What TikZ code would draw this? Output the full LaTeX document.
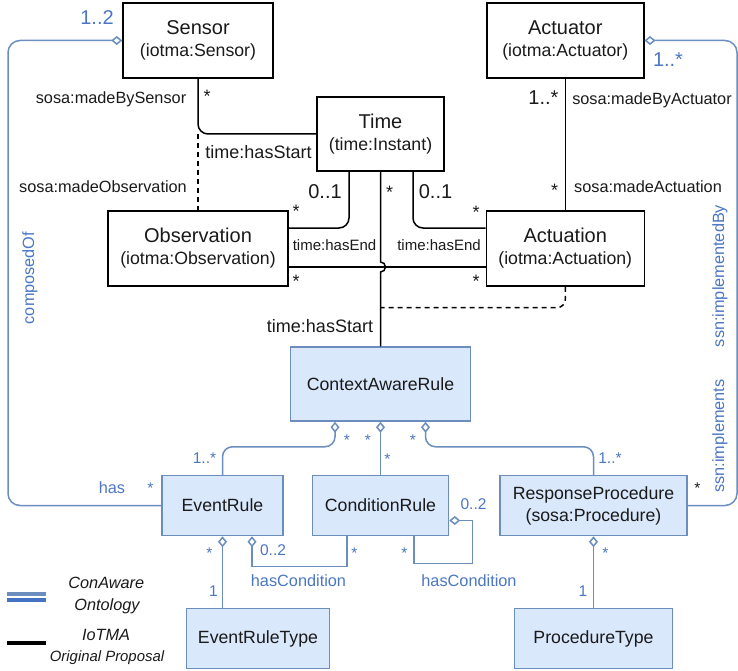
\documentclass[tikz,border=0pt]{standalone}
\usepackage{fontspec}
\setmainfont{Liberation Sans}
\usetikzlibrary{arrows.meta}
\definecolor{conblue}{HTML}{6C8EBF}
\definecolor{confill}{HTML}{DAE8FC}
\definecolor{context}{HTML}{4A76C3}
\definecolor{condark}{HTML}{4472C4}
\definecolor{inkblack}{HTML}{1A1A1A}
\newcommand{\subtxt}{\fontsize{17.7}{22}\selectfont}

\begin{document}
\begin{tikzpicture}[
    x=1pt, y=-1pt,
    iotbox/.style={
        draw=black,
        line width=1.5pt,
        inner sep=0pt,
        minimum height=75pt,
        align=center,
        text=inkblack,
        font=\fontsize{20}{22}\selectfont,
    },
    conbox/.style={
        draw=conblue,
        fill=confill,
        line width=1.5pt,
        inner sep=0pt,
        minimum height=60pt,
        align=center,
        text=inkblack,
        font=\fontsize{17.7}{22}\selectfont,
    },
    iotline/.style={draw=black, line width=1.5pt},
    conline/.style={draw=conblue, line width=1.5pt},
    agg/.style={{Diamond[open, length=11pt, width=9pt]}-},
    lbl/.style={anchor=base, inner sep=0pt, text=inkblack, font=\fontsize{16.3}{19}\selectfont},
    lblsmall/.style={lbl, font=\fontsize{15}{18}\selectfont},
    lblbig/.style={lbl, font=\fontsize{18}{21}\selectfont},
    mult/.style={lbl, font=\fontsize{20}{22}\selectfont},
    blbl/.style={lbl, text=context},
    bmult/.style={blbl, font=\fontsize{20}{22}\selectfont},
    bsmall/.style={blbl, font=\fontsize{15.5}{18}\selectfont},
    legend/.style={lbl, font=\fontsize{16.3}{19}\selectfont\itshape},
]
\useasboundingbox (0,0) rectangle (738,671);

% IoTMA classes
\node[iotbox, minimum width=150pt] (sensor) at (198,40.5) {Sensor\\{\subtxt (iotma:Sensor)}};
\node[iotbox, minimum width=157pt] (actuator) at (565.25,40.5) {Actuator\\{\subtxt (iotma:Actuator)}};
\node[iotbox, minimum width=127pt, minimum height=74pt] (time) at (380.5,134) {Time\\{\subtxt (time:Instant)}};
\node[iotbox, minimum width=180pt] (observation) at (198,248.5) {Observation\\{\subtxt (iotma:Observation)}};
\node[iotbox, minimum width=158pt] (actuation) at (565.25,248.5) {Actuation\\{\subtxt (iotma:Actuation)}};

% ConAware classes
\node[conbox, minimum width=180pt, minimum height=74pt] (car) at (380.5,384) {ContextAwareRule};
\node[conbox, minimum width=121pt] (eventRule) at (222.5,505.5) {EventRule};
\node[conbox, minimum width=136pt] (conditionRule) at (380.5,505.5) {ConditionRule};
\node[conbox, minimum width=187pt] (responseProc) at (593.5,505.5) {ResponseProcedure\\(sosa:Procedure)};
\node[conbox, minimum width=143pt] (eventRuleType) at (258,638.7) {EventRuleType};
\node[conbox, minimum width=158pt] (procType) at (593.5,638.7) {ProcedureType};

% helper points
\coordinate (obsEnd) at ([yshift=-18.5pt]observation.east);
\coordinate (actEnd) at ([yshift=-18.5pt]actuation.west);
\coordinate (hop) at (time.south |- obsEnd);
\coordinate (startJoin) at ([yshift=38.7pt]car.north);

% IoTMA associations
\draw[iotline, rounded corners=10pt] (sensor.south) |- (time.west);
\draw[iotline, dash pattern=on 5pt off 4pt] (observation.north |- time.west) -- (observation.north);
\draw[iotline, rounded corners=10pt] ([xshift=-31.5pt]time.south) |- ([yshift=20.5pt]observation.east);
\draw[iotline, rounded corners=10pt] ([xshift=32.5pt]time.south) |- ([yshift=20.5pt]actuation.west);
\draw[iotline] (obsEnd) -- (actEnd);
\draw[iotline] (time.south) -- ([yshift=5pt]hop) arc[start angle=90, end angle=-90, radius=5pt] -- (car.north);
\draw[iotline, dash pattern=on 5pt off 4pt, rounded corners=8pt] (actuation.south) |- (startJoin);
\draw[iotline] (actuator.south) -- (actuation.north);

% ConAware associations
\draw[conline, agg, rounded corners=12pt] (sensor.west) -| (8,300) |- (eventRule.west);
\draw[conline, agg, rounded corners=12pt] (actuator.east) -| (737,300) |- (responseProc.east);
\draw[conline, agg, rounded corners=10pt] ([xshift=-45.5pt]car.south) -- ++(0,25) -| (eventRule.north);
\draw[conline, agg] (car.south) -- (conditionRule.north);
\draw[conline, agg, rounded corners=10pt] ([xshift=45pt]car.south) -- ++(0,25) -| (responseProc.north);
\draw[conline, agg] (eventRule.south) -- (eventRule.south |- eventRuleType.north);
\draw[conline, agg] ([xshift=29.5pt]eventRule.south) -- ++(0,30) -| ([xshift=-33.5pt]conditionRule.south);
\draw[conline, agg] ([yshift=-15pt]conditionRule.east) -- ++(23,0) -- ++(0,43) -| ([xshift=33.5pt]conditionRule.south);
\draw[conline, agg] (responseProc.south) -- (procType.north);

% IoTMA labels
\node[lbl] (lMadeBySensor) at (111,104) {sosa:madeBySensor};
\node[lblbig] (sSensor) at (207,103) {*};
\node[lblbig] (lStartObs) at (258.5,159) {time:hasStart};
\node[lbl] (lMadeObs) at (103,192) {sosa:madeObservation};
\node[mult] (mEndObs) at (325,198) {0..1};
\node[lblbig] (sEndObs) at (296,217) {*};
\node[lblsmall] (lEndObs) at (334.5,250.7) {time:hasEnd};
\node[lblbig] (sObsLow) at (296,287) {*};
\node[lblbig] (sTime) at (389.5,198) {*};
\node[mult] (mEndAct) at (435.5,198) {0..1};
\node[lblbig] (sEndAct) at (476,218) {*};
\node[lblsmall] (lEndAct) at (439,250.7) {time:hasEnd};
\node[lblbig] (sActLow) at (476,287) {*};
\node[lblbig] (lStartRule) at (320,332.7) {time:hasStart};
\node[mult] (mActuator) at (543.5,105) {1..*};
\node[lbl] (lMadeByAct) at (652,105) {sosa:madeByActuator};
\node[lblbig] (sActuation) at (554.5,196) {*};
\node[lbl] (lMadeAct) at (648,192.7) {sosa:madeActuation};

% ConAware labels
\node[bmult] (mSensor) at (97,25) {1..2};
\node[blbl, rotate=90, anchor=center] (lComposed) at (30,278) {composedOf};
\node[blbl] (lHas) at (112,493) {has};
\node[bsmall] (sHas) at (150.5,493) {*};
\node[bmult] (mActuatorB) at (668,66.7) {1..*};
\node[blbl, rotate=90, anchor=center] (lImplBy) at (720,276) {ssn:implementedBy};
\node[blbl, rotate=90, anchor=center] (lImpl) at (720,436) {ssn:implements};
\node[bsmall, text=inkblack] (sProcRight) at (697.5,493) {*};
\node[bsmall] (sCarLeft) at (347,445) {*};
\node[bsmall] (sCarMid) at (368,445) {*};
\node[bsmall] (sCond) at (387.5,464) {*};
\node[bsmall] (sCarRight) at (413,445) {*};
\node[bsmall] (mEvent) at (204.5,463) {1..*};
\node[bsmall] (mProc) at (610,463) {1..*};
\node[bsmall] (sEvType) at (209.5,558) {*};
\node[bsmall] (mEvType) at (213.5,596) {1};
\node[bsmall] (mEvCond) at (273,555.7) {0..2};
\node[bsmall] (sEvCond) at (354.5,558) {*};
\node[blbl] (lEvCond) at (298.5,586.7) {hasCondition};
\node[bsmall] (mSelf) at (473.5,509) {0..2};
\node[bsmall] (sSelf) at (404.5,558) {*};
\node[blbl] (lSelf) at (469,586.7) {hasCondition};
\node[bsmall] (sProcType) at (605.5,558) {*};
\node[bsmall] (mProcType) at (583,596) {1};

% legend
\draw[conblue, line width=4pt] (7,593.7) -- (46,593.7);
\draw[condark, line width=4pt] (7,599.8) -- (46,599.8);
\draw[black, line width=4.5pt] (7,643) -- (46,643);
\node[legend] (gConAware) at (106.3,588.3) {ConAware};
\node[legend] (gOntology) at (107,610) {Ontology};
\node[legend] (gIotma) at (106,640.7) {IoTMA};
\node[legend, font=\fontsize{14.9}{18}\selectfont\itshape] (gOriginal) at (107,661.7) {Original Proposal};

\end{tikzpicture}
\end{document}
